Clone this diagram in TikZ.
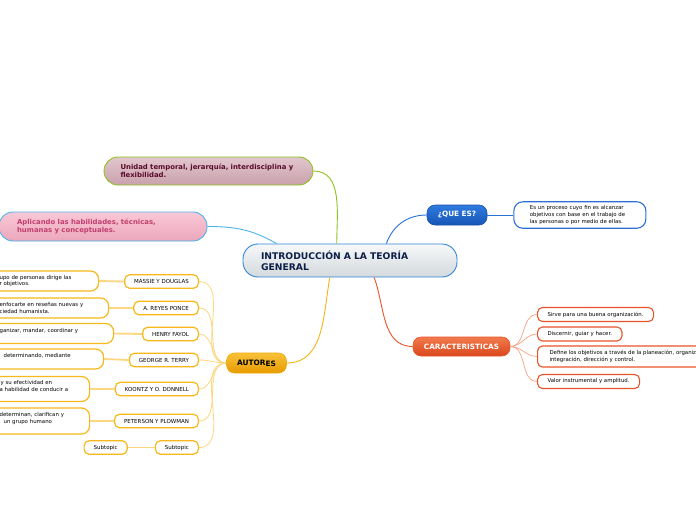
\documentclass[tikz,border=0pt]{standalone}
\usepackage{fontspec}
\setmainfont{DejaVu Sans}
\usepackage{tikz}
\usetikzlibrary{positioning}
\usepackage{xcolor}

\definecolor{unidadline}{HTML}{8DC21F}
\definecolor{unidadtop}{HTML}{E2C6CD}
\definecolor{unidadbot}{HTML}{C9A1AC}
\definecolor{unidadtext}{HTML}{5A0B2B}
\definecolor{aplicline}{HTML}{4BB3EA}
\definecolor{aplictop}{HTML}{FAC8D7}
\definecolor{aplicbot}{HTML}{EBA7BC}
\definecolor{aplictext}{HTML}{C23E6D}
\definecolor{centralline}{HTML}{2F86D8}
\definecolor{centraltop}{HTML}{F7F8F9}
\definecolor{centralbot}{HTML}{D3D9DD}
\definecolor{centraltext}{HTML}{0B1F47}
\definecolor{queline}{HTML}{1A52A8}
\definecolor{quetop}{HTML}{2F7BE0}
\definecolor{quebot}{HTML}{1656B5}
\definecolor{queconn}{HTML}{2A6FD6}
\definecolor{caractline}{HTML}{E8542A}
\definecolor{caracttop}{HTML}{F27B4D}
\definecolor{caractbot}{HTML}{D9461C}
\definecolor{autline}{HTML}{F0AA00}
\definecolor{auttop}{HTML}{F9C23A}
\definecolor{autbot}{HTML}{E69A00}
\definecolor{autconn}{HTML}{F7B21B}
\definecolor{authline}{HTML}{F8B81A}
\definecolor{fancolor}{HTML}{FCD780}
\definecolor{spraycolor}{HTML}{F7A084}

\begin{document}
\begin{tikzpicture}[x=1pt, y=-1pt]
\tikzstyle{central}=[rectangle, draw=centralline, top color=centraltop,
  bottom color=centralbot, rounded corners=15pt, line width=0.9pt,
  text width=178pt, inner xsep=18pt, minimum height=33pt, align=left,
  text=centraltext, font=\bfseries\fontsize{9.2}{11}\selectfont]
\tikzstyle{topic}=[rectangle, rounded corners=14pt, line width=0.9pt,
  align=left, font=\bfseries\fontsize{6.9}{8.3}\selectfont]
\tikzstyle{main}=[rectangle, rounded corners=8pt, line width=0.6pt,
  minimum height=20pt, text=white, font=\bfseries\fontsize{7.3}{8}\selectfont]
\tikzstyle{desc}=[rectangle, draw=queconn, fill=white, rounded corners=9pt,
  line width=1.1pt, text width=100pt, inner xsep=16pt, inner ysep=4pt,
  align=left, font=\fontsize{5.4}{6.6}\selectfont]
\tikzstyle{item}=[rectangle, draw=caractline, fill=white, rounded corners=5pt,
  line width=1.1pt, minimum height=14pt, inner xsep=10pt, anchor=west,
  align=left, font=\fontsize{5.4}{7}\selectfont]
\tikzstyle{author}=[rectangle, draw=authline, fill=white, rounded corners=5pt,
  line width=1.2pt, minimum height=13.5pt, inner xsep=9.5pt, inner ysep=1pt,
  font=\fontsize{5.5}{6}\selectfont]
\tikzstyle{cutbox}=[rectangle, draw=authline, fill=white, rounded corners=8pt,
  line width=1.2pt, minimum height=20pt, inner xsep=4pt, inner ysep=3pt,
  align=left, anchor=west, font=\fontsize{5.4}{6.8}\selectfont]
\tikzstyle{branch}=[line width=0.9pt]
\tikzstyle{fan}=[draw=fancolor, line width=0.8pt]
\tikzstyle{twig}=[draw=fancolor, line width=1.8pt]
\tikzstyle{spray}=[draw=spraycolor, line width=0.7pt]

\fill[white] (0,0) rectangle (696,520);
\useasboundingbox (0,0) rectangle (696,520);

\node (central) [central] at (350,260.5)
  {INTRODUCCIÓN A LA TEORÍA\\GENERAL};
\node (unidad) [topic, draw=unidadline, top color=unidadtop,
  bottom color=unidadbot, text=unidadtext, text width=180pt,
  inner xsep=14.5pt, minimum height=28pt] at (208.5,171)
  {\hspace*{2pt}Unidad temporal, jerarquía, interdisciplina y\\\hspace*{2pt}flexibilidad.};
\node (aplicando) [topic, draw=aplicline, top color=aplictop,
  bottom color=aplicbot, text=aplictext, text width=172pt,
  inner xsep=18pt, minimum height=29pt] at (103,226.5)
  {Aplicando las habilidades, técnicas,\\humanas y conceptuales.};
\node (quees) [main, draw=queline, top color=quetop, bottom color=quebot,
  minimum width=60pt] at (457,215) {¿QUE ES?};
\node (proceso) [desc, right=26pt of quees]
  {Es un proceso cuyo fin es alcanzar\\objetivos con base en el trabajo de\\las personas o por medio de ellas.};
\node (caract) [main, draw=caractline, top color=caracttop,
  bottom color=caractbot, minimum width=97pt, minimum height=19pt]
  at (461.5,346.5) {CARACTERISTICAS};
\node (autores) [main, draw=autline, top color=auttop, bottom color=autbot,
  text=black, minimum width=60pt, font=\bfseries\fontsize{7.4}{8}\selectfont]
  at (256.5,363) {AUTOR\raisebox{-1.2pt}{ES}};

\node (sirve) [item] at (537,314.5) {Sirve para una buena organización.};
\node (discernir) [item] at (537,334) {Discernir, guiar y hacer.};
\node (define) [item, inner xsep=12pt, minimum height=21pt] at (537,356.5)
  {Define los objetivos a través de la planeación, organización,\\integración, dirección y control.};
\node (valor) [item] at (537,381.5) {Valor instrumental y amplitud.};

\node (massie) [author, anchor=east] at (199,281.5) {MASSIE Y DOUGLAS};
\node (reyes) [author, anchor=east] at (199,308) {A. REYES PONCE};
\node (fayol) [author, anchor=east] at (199,334) {HENRY FAYOL};
\node (terry) [author, anchor=east] at (199,360) {GEORGE R. TERRY};
\node (koontz) [author, anchor=east] at (199,389) {KOONTZ Y O. DONNELL};
\node (peterson) [author, anchor=east] at (199,421) {PETERSON Y PLOWMAN};
\node (subtopic) [author, anchor=east] at (199,447.5) {Subtopic};
\node (subtopicleft) [author, left=27pt of subtopic] {Subtopic};

\node (massiedef) [cutbox, text width=123pt] at (-33,281)
  {\hspace*{28pt}upo de personas dirige las\\\hspace*{28pt}r objetivos.};
\node (reyesdef) [cutbox, text width=133pt] at (-33,308)
  {\hspace*{28pt}enfocarte en reseñas nuevas y\\\hspace*{28pt}ciedad humanista.};
\node (fayoldef) [cutbox, text width=138pt] at (-33,333.5)
  {\hspace*{28pt}ganizar, mandar, coordinar y\\~};
\node (terrydef) [cutbox, text width=128pt] at (-33,359)
  {\hspace*{32pt}determinando, mediante\\~};
\node (koontzdef) [cutbox, text width=114pt, minimum height=25pt] at (-33,389)
  {\hspace*{29pt}y su efectividad en\\\hspace*{28pt}a habilidad de conducir a\\~};
\node (petersondef) [cutbox, text width=114pt, minimum height=26pt] at (-33,421)
  {\hspace*{28pt}determinan, clarifican y\\\hspace*{32pt}un grupo humano\\~};

\draw [branch, draw=unidadline] (central.128) to[out=90,in=0] (unidad.east);
\draw [branch, draw=aplicline] (central.167) to[out=150,in=0] (aplicando.east);
\draw [branch, draw=queconn] (central.25) to[out=70,in=180] (quees.west);
\draw [branch, draw=caractline] (central.-35) to[out=-70,in=180] (caract.west);
\draw [branch, draw=autconn] (central.220) to[out=-100,in=0] (autores.east);

\draw [branch, draw=queconn] (quees.east) -- (proceso.west);

\draw [spray] (caract.east) to[out=0,in=180] (sirve.west);
\draw [spray] (caract.east) to[out=0,in=180] (discernir.west);
\draw [spray] (caract.east) to[out=0,in=180] (define.west);
\draw [spray] (caract.east) to[out=0,in=180] (valor.west);

\draw [fan] (autores.west) to[out=180,in=0] (massie.east);
\draw [fan] (autores.west) to[out=180,in=0] (reyes.east);
\draw [fan] (autores.west) to[out=180,in=0] (fayol.east);
\draw [fan] (autores.west) to[out=180,in=0] (terry.east);
\draw [fan] (autores.west) to[out=180,in=0] (koontz.east);
\draw [fan] (autores.west) to[out=180,in=0] (peterson.east);
\draw [fan] (autores.west) to[out=180,in=0] (subtopic.east);

\draw [twig] (massie.west) -- (massiedef.east);
\draw [twig] (reyes.west) -- (reyesdef.east);
\draw [twig] (fayol.west) -- (fayoldef.east);
\draw [twig] (terry.west) -- (terrydef.east);
\draw [twig] (koontz.west) -- (koontzdef.east);
\draw [twig] (peterson.west) -- (petersondef.east);
\draw [twig] (subtopic.west) -- (subtopicleft.east);
\end{tikzpicture}
\end{document}
